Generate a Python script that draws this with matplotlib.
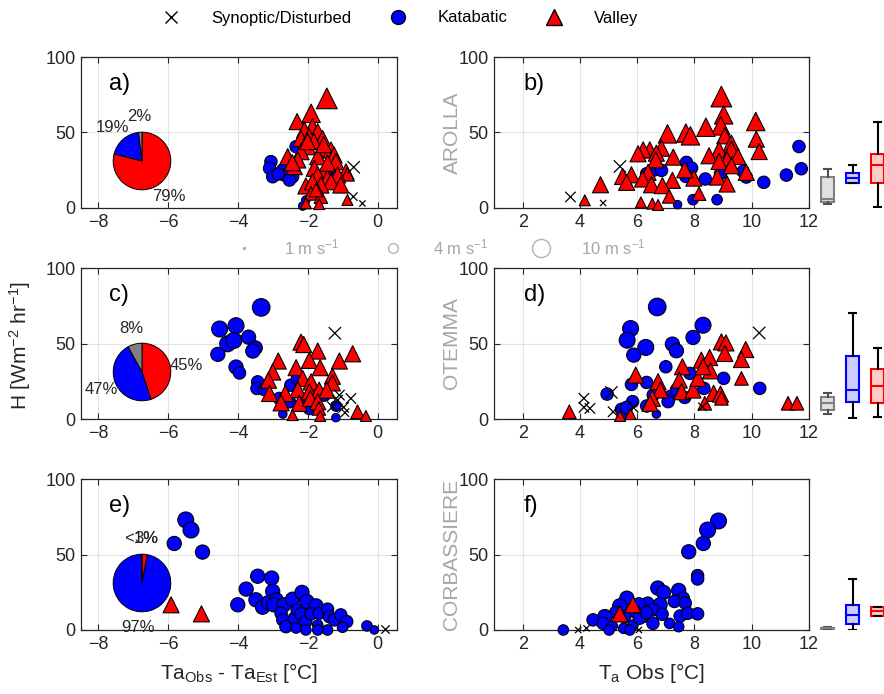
import matplotlib.pyplot as plt
from matplotlib.lines import Line2D

# points as (x, H, wind speed in m/s)
# --- Arolla ---
a_syn = [(-0.69, 27.0, 5), (-0.70, 7.5, 3), (-0.44, 3.0, 2)]
a_kat = [(-3.06, 30.7, 5), (-3.10, 26.3, 5), (-3.01, 20.7, 5), (-2.72, 25.2, 5),
         (-2.68, 21.9, 5), (-2.44, 20.7, 5), (-2.53, 18.5, 5), (-2.34, 40.6, 5),
         (-1.29, 25.2, 5), (-2.06, 5.3, 3), (-2.15, 1.3, 3), (-2.85, 22.5, 5)]
a_val = [(-1.46, 72.6, 7), (-1.91, 62.7, 6), (-2.31, 57.2, 5), (-1.87, 53.8, 5),
         (-1.72, 50.5, 5), (-2.10, 51.6, 5), (-2.20, 46.0, 5), (-1.97, 47.2, 5),
         (-1.58, 46.0, 5), (-1.83, 44.0, 5), (-2.01, 40.6, 5), (-1.58, 39.5, 5),
         (-1.34, 38.4, 5), (-1.25, 35.1, 5), (-2.20, 37.3, 5), (-2.58, 34.0, 5),
         (-2.29, 31.8, 5), (-1.72, 34.0, 5), (-1.20, 30.7, 5), (-2.39, 27.4, 5),
         (-1.82, 26.3, 5), (-1.49, 25.2, 5), (-0.91, 24.0, 5), (-0.87, 22.3, 4),
         (-1.15, 21.9, 5), (-1.72, 21.9, 5), (-1.44, 19.7, 5), (-1.34, 17.4, 5),
         (-1.06, 15.2, 5), (-2.06, 14.6, 5), (-1.63, 15.2, 5), (-1.87, 17.4, 5),
         (-1.91, 9.7, 4), (-1.63, 7.5, 4), (-0.87, 5.3, 3), (-2.06, 3.1, 3),
         (-1.68, 2.6, 3), (-1.77, 11.9, 4), (-1.44, 29.6, 5), (-2.01, 44.0, 5),
         (-1.55, 42.0, 5), (-2.45, 30.0, 5)]

b_syn = [(5.40, 27.5, 5), (3.67, 7.3, 4), (4.81, 3.3, 2)]
b_kat = [(11.65, 40.7, 5), (11.73, 26.0, 5), (11.21, 21.8, 5), (10.42, 17.0, 5),
         (9.81, 20.5, 5), (9.70, 24.2, 5), (8.91, 22.7, 5), (8.38, 19.2, 5),
         (7.72, 30.2, 5), (7.90, 26.4, 5), (7.70, 20.9, 5), (6.33, 22.7, 5),
         (6.56, 24.9, 5), (6.85, 24.9, 5), (7.95, 5.5, 4), (8.79, 5.5, 4),
         (7.41, 2.2, 3)]
b_val = [(8.94, 73.8, 7), (9.02, 61.7, 6), (8.92, 54.4, 6), (10.14, 57.3, 6),
         (8.40, 53.5, 6), (7.06, 49.1, 6), (7.70, 49.6, 6), (7.86, 47.8, 6),
         (9.06, 47.8, 5), (9.29, 43.0, 5), (10.16, 45.6, 5), (10.26, 37.4, 5),
         (8.86, 38.5, 5), (9.29, 39.0, 5), (6.85, 39.6, 5), (6.44, 38.5, 5),
         (6.21, 38.5, 5), (6.03, 35.9, 5), (6.67, 36.3, 5), (6.65, 31.9, 5),
         (7.26, 33.7, 5), (8.51, 34.6, 5), (9.52, 34.1, 5), (9.14, 31.9, 5),
         (8.86, 30.8, 5), (9.29, 28.0, 5), (6.38, 23.6, 5), (5.80, 22.0, 5),
         (5.49, 20.9, 5), (6.19, 19.2, 5), (5.63, 17.0, 5), (7.23, 18.3, 5),
         (7.98, 19.8, 5), (7.66, 25.3, 5), (8.80, 20.5, 5), (9.81, 23.6, 5),
         (6.50, 15.4, 5), (6.88, 14.8, 5), (9.14, 15.9, 5), (4.72, 15.4, 5),
         (7.12, 7.7, 4), (8.16, 9.5, 4), (4.17, 5.1, 3), (6.13, 3.7, 3),
         (6.53, 2.9, 3), (6.73, 2.0, 3)]

# --- Otemma ---
c_syn = [(-1.23, 56.8, 5), (-1.10, 15.8, 4), (-0.77, 13.6, 4), (-0.98, 7.7, 4),
         (-0.94, 4.2, 3), (-1.15, 12.5, 4), (-1.30, 8.1, 4)]
c_kat = [(-3.34, 73.9, 8), (-4.53, 59.6, 7), (-4.06, 61.8, 7), (-4.30, 49.8, 7),
         (-4.12, 52.0, 7), (-3.70, 54.2, 6), (-3.51, 47.1, 6), (-3.58, 45.0, 6),
         (-4.58, 42.8, 6), (-4.06, 34.4, 6), (-3.96, 30.5, 5), (-3.44, 24.6, 5),
         (-3.46, 20.2, 5), (-3.25, 19.5, 5), (-2.82, 13.6, 5), (-2.49, 22.4, 5),
         (-2.30, 26.8, 5), (-2.53, 11.4, 5), (-2.10, 12.9, 5), (-1.96, 7.0, 5),
         (-1.68, 16.9, 5), (-1.53, 15.8, 5), (-1.20, 8.6, 4), (-2.72, 3.3, 3),
         (-1.20, 0.9, 3)]
c_val = [(-2.20, 50.9, 5), (-2.12, 49.3, 5), (-0.72, 43.2, 5), (-1.72, 45.0, 5),
         (-1.96, 38.8, 5), (-1.10, 38.4, 5), (-2.85, 38.4, 5), (-1.65, 34.0, 5),
         (-2.34, 34.0, 5), (-3.01, 31.1, 5), (-1.30, 28.3, 5), (-1.30, 23.9, 5),
         (-2.15, 26.8, 5), (-1.91, 24.6, 5), (-2.29, 19.5, 5), (-3.13, 25.7, 5),
         (-3.10, 16.9, 5), (-2.65, 16.9, 5), (-1.96, 18.0, 5), (-1.68, 19.1, 5),
         (-1.46, 19.1, 5), (-2.77, 10.7, 5), (-2.25, 10.3, 5), (-1.93, 13.6, 5),
         (-1.72, 11.4, 5), (-1.69, 7.0, 4), (-2.44, 2.6, 3), (-1.65, 2.0, 3),
         (-0.58, 4.8, 4), (-0.34, 2.0, 3)]

d_syn = [(10.26, 57.0, 5), (4.14, 13.7, 4), (4.14, 7.7, 4), (4.35, 7.0, 4),
         (5.10, 17.6, 5), (5.16, 4.8, 4), (5.86, 7.7, 4), (8.28, 8.1, 3)]
d_kat = [(6.70, 74.2, 8), (5.77, 59.9, 7), (5.65, 52.2, 7), (6.30, 47.4, 7),
         (5.88, 42.3, 6), (7.23, 49.6, 6), (7.37, 45.2, 6), (7.95, 54.0, 6),
         (8.30, 62.1, 7), (7.00, 34.6, 5), (7.84, 30.2, 5), (9.02, 26.9, 5),
         (10.28, 20.3, 5), (5.80, 22.9, 5), (6.33, 24.2, 5), (4.95, 16.5, 5),
         (5.84, 11.5, 5), (6.56, 15.9, 5), (7.14, 14.8, 5), (7.08, 11.5, 5),
         (7.66, 14.3, 5), (8.33, 20.3, 5), (6.33, 8.6, 5), (5.45, 6.4, 5),
         (5.63, 7.7, 5), (6.67, 3.3, 3), (5.49, 1.5, 3), (7.37, 19.2, 5)]
d_val = [(5.95, 29.1, 5), (6.73, 24.7, 5), (6.81, 19.2, 5), (6.53, 13.7, 5),
         (6.45, 10.4, 5), (7.58, 34.6, 5), (7.47, 25.8, 5), (7.55, 18.1, 5),
         (7.95, 19.2, 5), (8.12, 26.9, 5), (8.24, 39.0, 5), (8.53, 40.7, 5),
         (8.56, 31.9, 5), (8.30, 34.6, 5), (8.94, 51.1, 5), (9.10, 50.4, 5),
         (9.06, 43.4, 5), (9.79, 46.0, 5), (9.64, 39.4, 5), (9.64, 26.9, 4),
         (8.67, 17.0, 5), (8.91, 16.5, 5), (8.94, 13.7, 4), (8.36, 10.4, 4),
         (3.63, 4.8, 4), (5.40, 2.0, 3), (5.77, 3.3, 3), (11.27, 10.4, 4),
         (11.58, 10.4, 4)]

# --- Corbassiere ---
e_syn = [(0.20, 0.7, 3)]
e_kat = [(-5.50, 72.9, 7), (-5.35, 66.2, 7), (-5.83, 57.3, 6), (-5.02, 51.6, 6),
         (-4.01, 16.7, 6), (-3.77, 27.1, 6), (-3.44, 35.6, 6), (-3.04, 34.4, 6),
         (-3.01, 25.6, 6), (-3.49, 20.0, 6), (-3.30, 15.1, 6), (-3.13, 18.2, 6),
         (-2.91, 20.0, 6), (-2.98, 16.7, 6), (-2.69, 16.7, 6), (-2.44, 20.4, 6),
         (-2.17, 24.9, 6), (-2.03, 18.9, 6), (-1.77, 16.0, 6), (-2.77, 11.1, 5),
         (-2.72, 6.7, 5), (-2.63, 2.2, 5), (-2.39, 7.8, 5), (-2.31, 13.3, 5),
         (-2.20, 10.7, 5), (-2.06, 5.6, 5), (-1.91, 10.7, 5), (-1.68, 11.1, 5),
         (-1.44, 13.8, 5), (-1.39, 8.9, 5), (-1.25, 6.7, 5), (-1.06, 10.0, 5),
         (-0.89, 5.6, 5), (-1.01, 1.8, 4), (-1.72, 3.3, 4), (-1.44, 0.0, 4),
         (-2.06, 0.0, 4), (-1.72, 0.0, 4), (-2.34, 1.3, 4), (-0.31, 2.7, 4),
         (-0.10, 0.0, 3)]
e_val = [(-5.92, 16.7, 5), (-5.05, 10.7, 5)]

f_syn = [(3.94, 0.0, 2), (4.23, 1.1, 2), (6.06, 0.0, 2)]
f_kat = [(8.84, 72.2, 7), (8.46, 66.2, 7), (8.31, 57.3, 6), (7.80, 51.8, 6),
         (8.11, 36.0, 5), (8.11, 33.8, 5), (6.72, 27.8, 6), (6.92, 24.9, 6),
         (7.45, 26.2, 6), (7.61, 21.1, 5), (7.30, 18.9, 5), (7.68, 17.8, 5),
         (6.80, 16.7, 6), (6.37, 17.8, 5), (5.64, 21.1, 6), (5.39, 16.0, 6),
         (6.06, 16.7, 6), (6.55, 13.3, 5), (6.87, 10.4, 5), (6.20, 8.9, 5),
         (5.91, 12.2, 5), (5.56, 8.9, 5), (5.25, 11.6, 5), (4.87, 8.9, 6),
         (4.46, 6.7, 5), (4.81, 4.4, 5), (5.13, 2.7, 4), (5.53, 1.1, 4),
         (5.85, 3.3, 4), (5.02, 0.0, 4), (5.74, 0.0, 4), (6.55, 4.4, 5),
         (7.13, 4.4, 4), (7.45, 2.2, 4), (7.50, 9.3, 5), (7.77, 11.1, 5),
         (8.11, 10.7, 5), (3.42, 0.0, 4), (6.08, 7.8, 5), (6.32, 11.6, 5)]
f_val = [(5.39, 10.7, 5), (5.85, 16.7, 5)]

# pies: Valley, Katabatic, Synoptic shares (%)
pie_vals = [[79, 19, 2], [45, 47, 8], [3, 97, 0.4]]
pie_labels = [['79%', '19%', '2%'], ['45%', '47%', '8%'], ['3%', '97%', '<1%']]

# box plots: order Synoptic, Katabatic, Valley -> (whislo, q1, med, q3, whishi)
box_arolla = [(2.6, 4.0, 6.0, 20.7, 25.8), (16.4, 16.4, 20.0, 23.0, 28.5), (0.5, 16.5, 28.5, 36.0, 57.0)]
box_otemma = [(3.3, 6.0, 10.5, 14.7, 17.0), (0.5, 11.4, 19.0, 42.0, 70.0), (1.5, 10.5, 22.0, 33.0, 47.0)]
box_corbas = [(0.3, 0.6, 1.0, 1.4, 1.7), (0.0, 4.0, 10.0, 16.7, 34.0), (9.5, 9.5, 12.5, 15.0, 15.0)]

stations = ['AROLLA', 'OTEMMA', 'CORBASSIERE']
letters = ['a)', 'b)', 'c)', 'd)', 'e)', 'f)']

RED = '#ff0000'
BLUE = '#0000ff'
GREY = '#808080'
TXT = '#262626'

plt.rcParams['font.family'] = ['Liberation Sans', 'DejaVu Sans']
plt.rcParams['mathtext.default'] = 'regular'


def msize(ws, tri=False):
    # marker area in pt^2 from wind speed
    d = 3.7 * ws ** 0.75 * 0.72
    if tri:
        d *= 1.3
    return d ** 2


def col(pts, i):
    return [p[i] for p in pts]


def scatter_panel(ax, syn, kat, val):
    ax.scatter(col(kat, 0), col(kat, 1), s=[msize(w) for w in col(kat, 2)], marker='o',
               facecolor=BLUE, edgecolor='k', linewidth=0.8, clip_on=False, zorder=3)
    ax.scatter(col(val, 0), col(val, 1), s=[msize(w, True) for w in col(val, 2)], marker='^',
               facecolor=RED, edgecolor='k', linewidth=0.8, clip_on=False, zorder=4)
    ax.scatter(col(syn, 0), col(syn, 1), s=[msize(w) for w in col(syn, 2)], marker='x',
               color='k', linewidth=0.9, clip_on=False, zorder=5)


def style(ax):
    ax.set_ylim(0, 100)
    ax.set_yticks([0, 50, 100])
    ax.grid(True, color='#e3e3e3', linewidth=0.8)
    ax.set_axisbelow(True)
    ax.tick_params(direction='in', top=True, right=True, labelsize=13, colors=TXT,
                   length=4, pad=4)
    for sp in ax.spines.values():
        sp.set_color(TXT)
        sp.set_linewidth(0.9)


fig = plt.figure(figsize=(8.84, 6.94), dpi=100)
W, H = 884.0, 694.0

rows = [(a_syn, a_kat, a_val, b_syn, b_kat, b_val, box_arolla),
        (c_syn, c_kat, c_val, d_syn, d_kat, d_val, box_otemma),
        (e_syn, e_kat, e_val, f_syn, f_kat, f_val, box_corbas)]
bottoms_px = [208, 419, 630]
ah = 151 / H

for r, (ls, lk, lv, rs, rk, rv, bx) in enumerate(rows):
    bot = 1 - bottoms_px[r] / H
    axl = fig.add_axes([81 / W, bot, 316 / W, ah])
    axr = fig.add_axes([494 / W, bot, 315 / W, ah])
    axb = fig.add_axes([815 / W, bot, 75 / W, ah])

    scatter_panel(axl, ls, lk, lv)
    style(axl)
    axl.set_xlim(-8.5, 0.55)
    axl.set_xticks([-8, -6, -4, -2, 0])
    axl.text(0.09, 0.82, letters[2 * r], transform=axl.transAxes, fontsize=17,
             va='center', ha='left')

    scatter_panel(axr, rs, rk, rv)
    style(axr)
    axr.set_xlim(1, 12)
    axr.set_xticks([2, 4, 6, 8, 10, 12])
    axr.text(0.095, 0.82, letters[2 * r + 1], transform=axr.transAxes, fontsize=17,
             va='center', ha='left')
    fig.text(452 / W, bot + ah / 2, stations[r], rotation=90, fontsize=15,
             color='#a6a6a6', ha='center', va='center')

    # pie inset
    yc = bottoms_px[r] - 47
    pax = fig.add_axes([(142 - 36) / W, 1 - (yc + 36) / H, 72 / W, 72 / H])
    wedges, texts = pax.pie(pie_vals[r], colors=[RED, BLUE, GREY], startangle=90,
                            counterclock=False, labels=pie_labels[r], labeldistance=1.55,
                            wedgeprops=dict(edgecolor='k', linewidth=0.7),
                            textprops=dict(fontsize=12, color=TXT))
    for t in texts:
        t.set_ha('center')

    # box plots
    stats = []
    for lo, q1, med, q3, hi in bx:
        stats.append(dict(whislo=lo, q1=q1, med=med, q3=q3, whishi=hi, fliers=[]))
    bp = axb.bxp(stats, positions=[1, 2, 3], widths=0.55, capwidths=0.3,
                 patch_artist=True, showfliers=False)
    faces = ['#e0e0e0', '#ccccff', '#ffcccc']
    edges = [GREY, BLUE, RED]
    for i in range(3):
        bp['boxes'][i].set(facecolor=faces[i], edgecolor=edges[i], linewidth=1.5)
        bp['medians'][i].set(color=edges[i], linewidth=1.5)
        for ln in bp['whiskers'][2 * i:2 * i + 2] + bp['caps'][2 * i:2 * i + 2]:
            ln.set(color='k' if i else '#505050', linewidth=1.5)
    axb.set_xlim(0.5, 3.5)
    axb.set_ylim(0, 100)
    axb.axis('off')

    if r == 2:
        axl.set_xlabel(r'Ta$_{Obs}$ - Ta$_{Est}$ [°C]', fontsize=15, color=TXT, labelpad=6)
        axr.set_xlabel(r'T$_a$ Obs [°C]', fontsize=15, color=TXT, labelpad=6)

fig.text(20 / W, 1 - 345 / H, r'H [Wm$^{-2}$ hr$^{-1}$]', rotation=90, fontsize=15,
         color=TXT, ha='center', va='center')

# class legend
handles = [Line2D([], [], marker='x', color='k', ls='none', markersize=8),
           Line2D([], [], marker='o', mfc=BLUE, mec='k', ls='none', markersize=10),
           Line2D([], [], marker='^', mfc=RED, mec='k', ls='none', markersize=11)]
fig.legend(handles, ['Synoptic/Disturbed', 'Katabatic', 'Valley'], loc='center',
           bbox_to_anchor=(0.4485, 1 - 18 / H), ncol=3, frameon=False, fontsize=12,
           handletextpad=1.4, columnspacing=1.8)

# wind speed legend
LG = '#b3b3b3'
whandles = [Line2D([], [], marker='o', mfc=LG, mec=LG, ls='none', markersize=1.5),
            Line2D([], [], marker='o', mfc='none', mec=LG, ls='none', markersize=7),
            Line2D([], [], marker='o', mfc='none', mec=LG, ls='none', markersize=13)]
wl = fig.legend(whandles, [r'1 m s$^{-1}$', r'4 m s$^{-1}$', r'10 m s$^{-1}$'], loc='center',
                bbox_to_anchor=(0.494, 1 - 247 / H), ncol=3, frameon=False, fontsize=12,
                handletextpad=1.4, columnspacing=2.2)
for t in wl.get_texts():
    t.set_color('#a6a6a6')

fig.savefig('out.png', dpi=100)
